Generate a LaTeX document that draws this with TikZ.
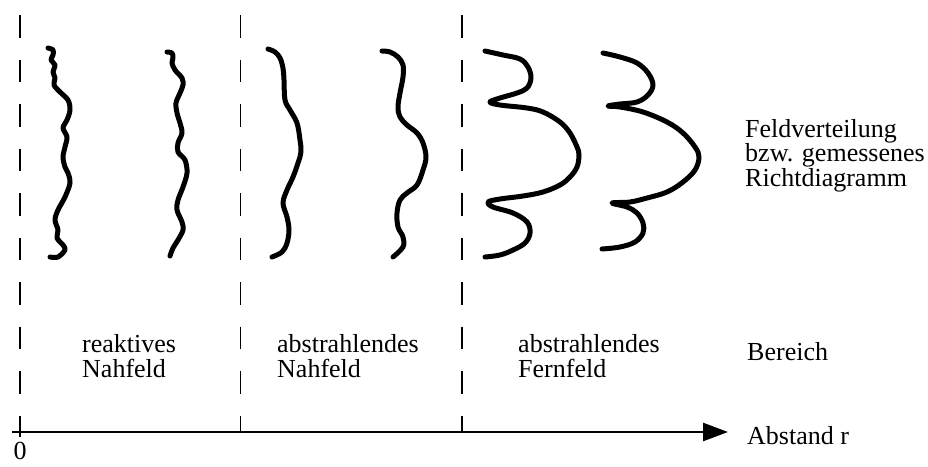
\documentclass[tikz,border=0pt]{standalone}
\usepackage{fontspec}
\setmainfont{Liberation Serif}
\usetikzlibrary{arrows.meta}
\begin{document}
\begin{tikzpicture}[x=1pt,y=-1pt,
  wave/.style={line width=5pt, line cap=round, line join=round},
  gridline/.style={line width=1.8pt, dash pattern=on 22.5pt off 22pt},
  axisline/.style={line width=2.6pt, -{Triangle[length=25pt,width=18pt]}},
  lbl/.style={anchor=base west, inner sep=0pt, font=\fontsize{26}{24.5}\selectfont}]
\useasboundingbox[fill=white] (0,0) rectangle (928,466);

% dashed separators
\coordinate (d1t) at (20,15);   \coordinate (d1b) at (20,437);
\coordinate (d2t) at (240.5,15); \coordinate (d2b) at (240.5,432);
\coordinate (d3t) at (462,15);  \coordinate (d3b) at (462,432);
\draw[gridline] (d1t) -- (d1b);
\draw[gridline] (d2t) -- (d2b);
\draw[gridline] (d3t) -- (d3b);

% axis
\coordinate (ax0) at (12,432);
\coordinate (ax1) at (728,432);
\draw[axisline] (ax0) -- (ax1);

% reactive near field
\draw[wave] plot[smooth, tension=0.55] coordinates {(48,48) (53,50) (53,55) (51,60) (55,65) (53,72) (55,78) (54,85) (60,92) (68,100) (70,110) (67,120) (63,128) (67,137) (65,147) (63,157) (65,167) (68,173) (70,183) (65,197) (58,210) (55,220) (58,230) (57,238) (63,245) (65,250) (58,257) (50,257)};
\draw[wave] plot[smooth, tension=0.55] coordinates {(167,52) (172,53) (173,58) (172,63) (175,70) (182,78) (183,85) (180,93) (176,103) (177,113) (180,123) (182,133) (178,143) (178,152) (185,160) (187,173) (183,187) (178,200) (177,210) (182,222) (183,230) (178,240) (173,248) (170,256)};

% radiating near field
\draw[wave] plot[smooth, tension=0.6] coordinates {(268,49) (275,52) (280,58) (283,68) (284,80) (285,100) (290,110) (297,123) (300,140) (301,152) (298,163) (293,177) (287,190) (283,203) (287,217) (289,230) (287,243) (282,252) (272,257)};
\draw[wave] plot[smooth, tension=0.6] coordinates {(382,51) (390,52) (398,57) (403,65) (403,77) (400,93) (398,107) (400,117) (407,125) (417,133) (423,143) (426,157) (423,170) (417,185) (407,193) (400,200) (397,213) (398,227) (403,237) (403,247) (393,257)};

% far field
\draw[wave] plot[smooth, tension=0.6] coordinates {(485,51) (503,55) (520,59) (528,67) (531,78) (527,88) (517,93) (500,98) (490,102) (500,105) (527,108) (543,112) (560,122) (570,133) (577,147) (579,155) (577,167) (570,177) (560,185) (543,192) (523,196) (500,199) (488,202) (493,207) (513,213) (527,222) (530,233) (525,243) (513,250) (500,255) (485,257)};
\draw[wave] plot[smooth, tension=0.6] coordinates {(603,53) (620,57) (637,63) (648,73) (653,85) (648,95) (637,102) (620,104) (608,106) (620,107) (643,112) (667,122) (683,133) (695,147) (699,157) (695,170) (683,182) (667,192) (647,198) (630,202) (612,203) (627,207) (637,213) (643,223) (643,233) (635,242) (620,247) (602,249)};

% labels
\node[lbl] (f1) at (745,137) {Feldverteilung};
\node[lbl] (f2) at (745,161.5) {bzw. gemessenes};
\node[lbl] (f3) at (745,186) {Richtdiagramm};

\node[lbl] (r1) at (82,352) {reaktives};
\node[lbl] (r2) at (82,377) {Nahfeld};
\node[lbl] (n1) at (277,352) {abstrahlendes};
\node[lbl] (n2) at (277,377) {Nahfeld};
\node[lbl] (e1) at (518,352) {abstrahlendes};
\node[lbl] (e2) at (518,377) {Fernfeld};
\node[lbl] (b) at (747,360) {Bereich};

\node[lbl] (ab) at (747,444) {Abstand r};
\node[lbl, anchor=base, text depth=0pt] (zero) at (20,459.5) {0};
\end{tikzpicture}
\end{document}
